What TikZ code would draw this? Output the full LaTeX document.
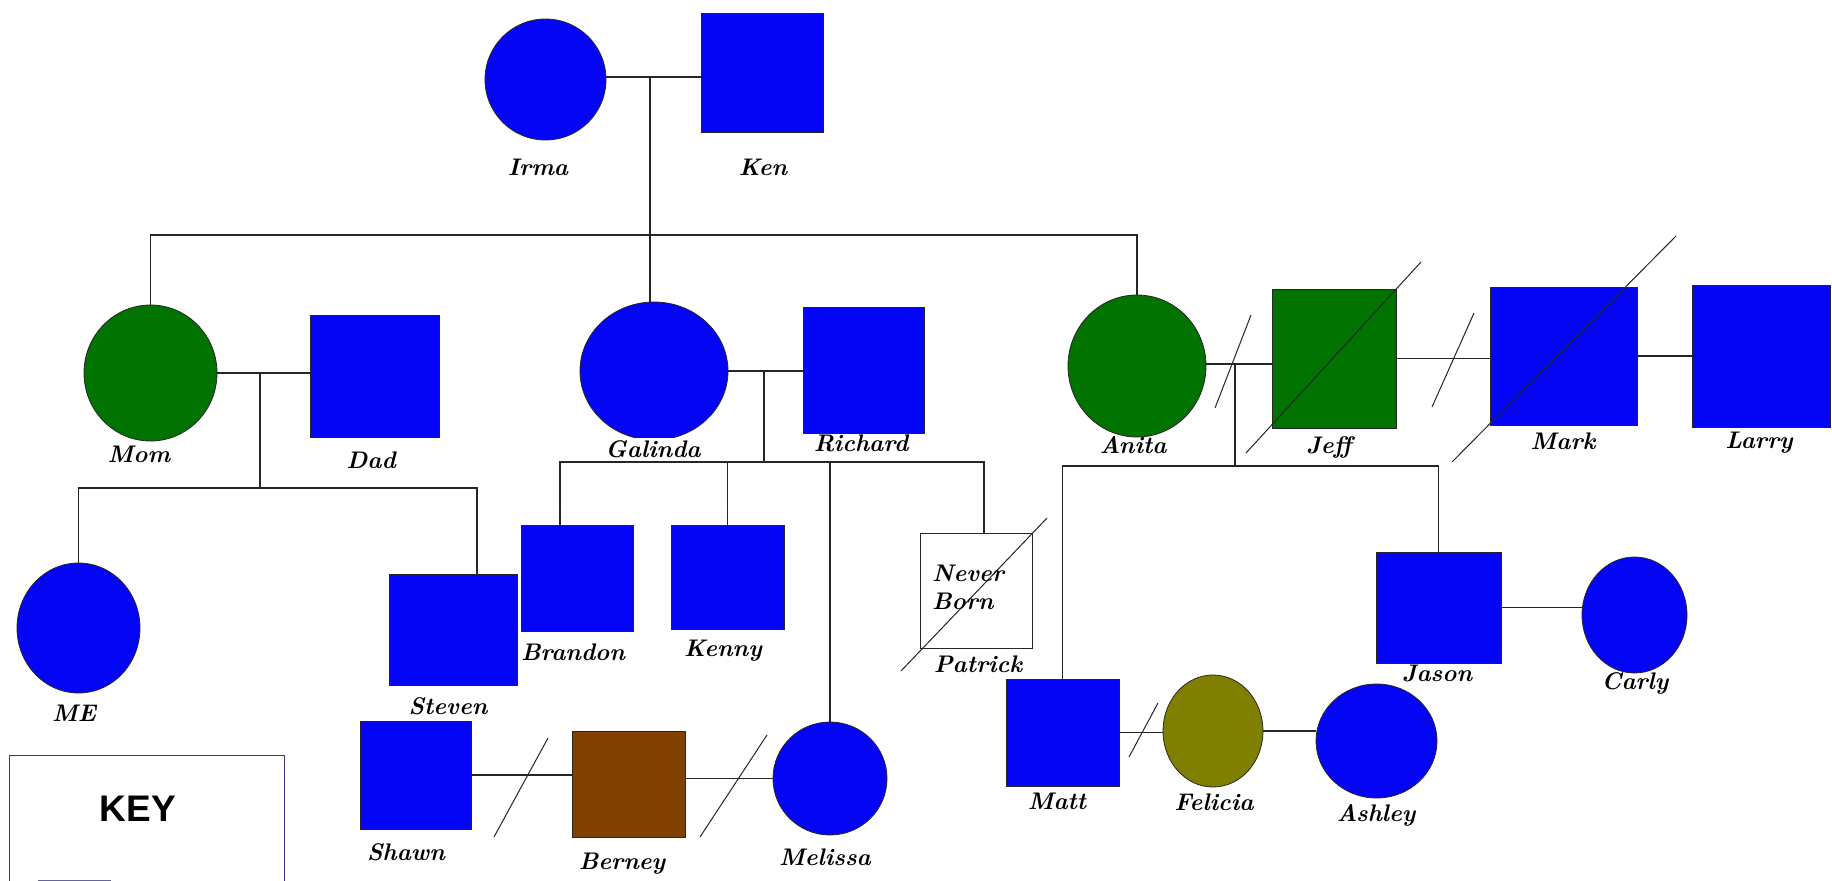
\documentclass[tikz,border=0pt]{standalone}
\usepackage{fontspec}
\newfontfamily\keyfont{Liberation Sans}
\usetikzlibrary{shapes.geometric}
\definecolor{pblue}{RGB}{5,5,245}
\definecolor{pgreen}{RGB}{0,115,0}
\definecolor{pbrown}{RGB}{128,64,0}
\definecolor{polive}{RGB}{128,128,0}
\definecolor{keyline}{RGB}{60,50,140}
\tikzset{
  sq/.style={rectangle, draw=black!85, line width=0.8pt, fill=pblue, inner sep=0pt},
  circ/.style={ellipse, draw=black!85, line width=0.8pt, fill=pblue, inner sep=0pt},
  lbl/.style={font=\fontsize{24}{28}\selectfont\bfseries\itshape, inner sep=1pt},
  conn/.style={line width=1.6pt, draw=black!85},
  slash/.style={line width=1pt, draw=black!85}
}
\begin{document}
\begin{tikzpicture}[x=1pt,y=-1pt]
\useasboundingbox (0,0) rectangle (1832,881);
\clip (0,0) rectangle (1832,881);
\fill[white] (0,0) rectangle (1832,881);

% generation 1
\node[circ, minimum width=121pt, minimum height=121pt] (Irma) at (545.5,79.5) {};
\node[sq, minimum width=122pt, minimum height=119pt] (Ken) at (762,72.5) {};
% generation 2
\node[circ, fill=pgreen, minimum width=133pt, minimum height=136pt] (Mom) at (150.5,373) {};
\node[sq, minimum width=129pt, minimum height=122pt] (Dad) at (374.5,376) {};
\node[circ, minimum width=148pt, minimum height=138pt] (Galinda) at (654,371) {};
\node[sq, minimum width=121pt, minimum height=126pt] (Richard) at (863.5,370) {};
\node[circ, fill=pgreen, minimum width=138pt, minimum height=142pt] (Anita) at (1137,366) {};
\node[sq, fill=pgreen, minimum width=124pt, minimum height=139pt] (Jeff) at (1334,358.5) {};
\node[sq, minimum width=147pt, minimum height=138pt] (Mark) at (1563.5,356) {};
\node[sq, minimum width=138pt, minimum height=142pt] (Larry) at (1761,356) {};
% generation 3
\node[circ, minimum width=123pt, minimum height=130pt] (ME) at (78.5,628) {};
\node[sq, minimum width=128pt, minimum height=111pt] (Steven) at (453,629.5) {};
\node[sq, minimum width=112pt, minimum height=106pt] (Brandon) at (577,578) {};
\node[sq, minimum width=113pt, minimum height=104pt] (Kenny) at (727.5,577) {};
\node[sq, fill=white, minimum width=112pt, minimum height=115pt] (Patrick) at (976,590.5) {};
\node[circ, minimum width=114pt, minimum height=113pt] (Melissa) at (830,778.5) {};
\node[sq, minimum width=111pt, minimum height=108pt] (Shawn) at (415.5,775) {};
\node[sq, fill=pbrown, minimum width=113pt, minimum height=106pt] (Berney) at (628.5,784) {};
\node[sq, minimum width=113pt, minimum height=107pt] (Matt) at (1062.5,732.5) {};
\node[circ, fill=polive, minimum width=100pt, minimum height=112pt] (Felicia) at (1213,731) {};
\node[circ, minimum width=121pt, minimum height=114pt] (Ashley) at (1376.5,741) {};
\node[sq, minimum width=125pt, minimum height=111pt] (Jason) at (1438.5,607.5) {};
\node[circ, minimum width=105pt, minimum height=116pt] (Carly) at (1634.5,615) {};

% helper coordinates
\coordinate (m1) at (650,77);
\coordinate (s1) at (650,235);
\coordinate (m2) at (260,373);
\coordinate (s2) at (260,488);
\coordinate (stv) at (477,574);
\coordinate (m3) at (764,371);
\coordinate (s3) at (764,462);
\coordinate (brd) at (560,525);
\coordinate (pat) at (984,533);
\coordinate (m4) at (1235,364);
\coordinate (s4) at (1235,466);

% connectors
\draw[conn] (m1 -| Irma.east) -- (m1 -| Ken.west);
\draw[conn] (m1) -- (s1);
\draw[conn] (Mom.north) |- (s1) -| (Anita.north);
\draw[conn] (s1) -- (s1 |- Galinda.north);

\draw[conn] (Mom.east) -- (Mom.east -| Dad.west);
\draw[conn] (m2) -- (s2);
\draw[conn] (ME.north) |- (s2) -| (stv);

\draw[conn] (Galinda.east) -- (Galinda.east -| Richard.west);
\draw[conn] (m3) -- (s3);
\draw[conn] (brd) |- (s3) -| (pat);
\draw[conn] (s3 -| Kenny.north) -- (Kenny.north);
\draw[conn] (s3 -| Melissa.north) -- (Melissa.north);

\draw[conn] (m4 -| Anita.east) -- (m4 -| Jeff.west);
\draw[conn] (m4) -- (s4);
\draw[conn] (Matt.north) |- (s4) -| (Jason.north);
\draw[conn] (Jeff.east) -- (Jeff.east -| Mark.west);
\draw[conn] (Mark.east) -- (Mark.east -| Larry.west);

\draw[conn] (Shawn.east) -- (Shawn.east -| Berney.west);
\draw[conn] (Melissa.west) -- (Melissa.west -| Berney.east);
\draw[conn] (Matt.east) -- (Matt.east -| Felicia.west);
\draw[conn] (Felicia.east) -- (Felicia.east -| Ashley.west);
\draw[conn] (Jason.east) -- (Jason.east -| Carly.west);

% divorce slashes and deceased lines
\draw[slash] (1215,408) -- (1251,315);
\draw[slash] (1432,407) -- (1474,313);
\draw[slash] (494,837) -- (548,738);
\draw[slash] (700,837) -- (767,735);
\draw[slash] (1129,757) -- (1158,703);
\draw[slash] (1246,453) -- (1421,262);
\draw[slash] (1452,462) -- (1676,236);
\draw[slash] (901,671) -- (1047,518);

% labels
\node[lbl] (lIrma) at (538,167) {Irma};
\node[lbl] (lKen) at (763,167) {Ken};
\node[lbl] (lMom) at (139,454) {Mom};
\node[lbl] (lDad) at (371,460) {Dad};
\node[lbl, fill=white, inner sep=2pt] (lGalinda) at (653,449) {Galinda};
\node[lbl] (lRichard) at (861,443) {Richard};
\node[lbl] (lAnita) at (1133,445) {Anita};
\node[lbl] (lJeff) at (1329,447) {Jeff};
\node[lbl] (lMark) at (1563,441) {Mark};
\node[lbl] (lLarry) at (1759,443) {Larry};
\node[lbl] (lME) at (74,713) {ME};
\node[lbl] (lSteven) at (448,706) {Steven};
\node[lbl] (lBrandon) at (573,652) {Brandon};
\node[lbl] (lKenny) at (723,651) {Kenny};
\node[lbl] (lPatrick) at (978,664) {Patrick};
\node[lbl, align=left] (lNever) at (968,587) {Never\\Born};
\node[lbl] (lMelissa) at (825,857) {Melissa};
\node[lbl] (lShawn) at (406,852) {Shawn};
\node[lbl] (lBerney) at (622,864) {Berney};
\node[lbl] (lMatt) at (1057,801) {Matt};
\node[lbl] (lFelicia) at (1214,802) {Felicia};
\node[lbl] (lAshley) at (1376,815) {Ashley};
\node[lbl] (lJason) at (1437,673) {Jason};
\node[lbl] (lCarly) at (1635,683) {Carly};

% key
\node[draw=keyline, line width=1.2pt, rectangle, minimum width=275pt, minimum height=150pt, anchor=north west, inner sep=0pt] (keybox) at (9,755) {};
\node[font=\keyfont\fontsize{37}{42}\selectfont\bfseries] (keytext) at (138,809) {KEY};
\node[draw=gray!80!blue, line width=1pt, rectangle, minimum width=72pt, minimum height=20pt, anchor=north west, inner sep=0pt] (keysample) at (38,880) {};
\end{tikzpicture}
\end{document}
